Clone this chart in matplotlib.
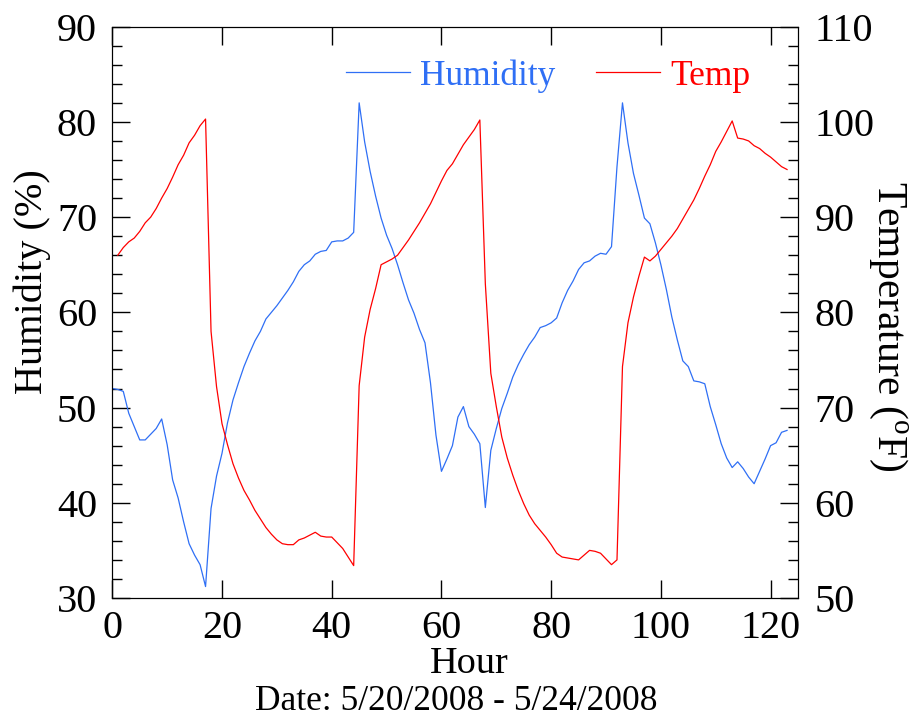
import numpy as np
import matplotlib
matplotlib.use("Agg")
import matplotlib.pyplot as plt
from matplotlib.ticker import MultipleLocator

plt.rcParams['font.family'] = ['Liberation Serif', 'DejaVu Serif']
plt.rcParams['mathtext.fontset'] = 'custom'
plt.rcParams['mathtext.rm'] = 'Liberation Serif'

# hourly readings
hum_hours = list(range(0, 124))
humidity = [52.0, 51.9, 51.7, 49.4, 48.0, 46.6, 46.6, 47.2, 47.8, 48.8,
            46.1, 42.4, 40.5, 38.0, 35.7, 34.5, 33.5, 31.2, 39.4, 42.8,
            45.2, 48.4, 50.8, 52.6, 54.3, 55.7, 57.0, 58.0, 59.3, 60.0,
            60.7, 61.5, 62.3, 63.2, 64.3, 65.0, 65.4, 66.1, 66.4, 66.5,
            67.4, 67.5, 67.5, 67.8, 68.4, 82.0, 77.9, 74.8, 72.2, 69.9,
            68.1, 66.7, 65.0, 63.1, 61.3, 59.9, 58.2, 56.8, 52.6, 47.1,
            43.3, 44.6, 46.0, 49.0, 50.1, 48.0, 47.2, 46.2, 39.5, 45.5,
            47.8, 49.9, 51.5, 53.2, 54.5, 55.6, 56.6, 57.4, 58.4, 58.6,
            58.9, 59.4, 61.0, 62.3, 63.3, 64.5, 65.2, 65.4, 65.9, 66.2,
            66.1, 66.9, 75.3, 82.0, 77.8, 74.6, 72.3, 69.9, 69.3, 67.3,
            65.0, 62.4, 59.5, 57.1, 54.9, 54.3, 52.8, 52.7, 52.5, 50.1,
            48.2, 46.2, 44.7, 43.7, 44.3, 43.6, 42.7, 42.0, 43.3, 44.6,
            46.0, 46.3, 47.4, 47.6]

temp_hours = list(range(1, 124))
temp = [86.0, 86.8, 87.4, 87.8, 88.5, 89.4, 90.0, 90.9, 92.0,
        93.0, 94.2, 95.5, 96.5, 97.8, 98.6, 99.6, 100.3, 78.0, 72.2,
        68.3, 66.1, 64.1, 62.6, 61.3, 60.3, 59.2, 58.3, 57.4, 56.7,
        56.1, 55.7, 55.6, 55.6, 56.1, 56.3, 56.6, 56.9, 56.5, 56.4,
        56.4, 55.8, 55.2, 54.3, 53.4, 72.3, 77.4, 80.3, 82.5, 85.0,
        85.3, 85.6, 86.0, 86.8, 87.6, 88.5, 89.4, 90.4, 91.4, 92.6,
        93.8, 94.9, 95.6, 96.6, 97.6, 98.4, 99.2, 100.2, 83.0, 73.6,
        70.1, 66.9, 64.7, 62.9, 61.3, 59.9, 58.7, 57.8, 57.1, 56.4,
        55.6, 54.7, 54.3, 54.2, 54.1, 54.0, 54.5, 55.0, 54.9, 54.7,
        54.1, 53.5, 54.0, 74.3, 78.9, 81.6, 83.8, 85.8, 85.4, 85.9,
        86.6, 87.3, 88.0, 88.8, 89.8, 90.8, 91.8, 93.0, 94.3, 95.5,
        96.9, 97.9, 99.0, 100.1, 98.3, 98.2, 98.0, 97.5, 97.2, 96.7,
        96.3, 95.8, 95.3, 95.0]

blue = '#2f6ff5'
red = '#ff0000'

fig = plt.figure(figsize=(9.16, 7.25), dpi=100)
ax = fig.add_axes([0.1226, 0.1752, 0.7486, 0.788])
ax2 = ax.twinx()

l1, = ax.plot(hum_hours, humidity, color=blue, lw=0.9, label='Humidity')
l2, = ax2.plot(temp_hours, temp, color=red, lw=0.9, label='Temp')

ax.set_xlim(0, 125)
ax.set_ylim(30, 90)
ax2.set_ylim(50, 110)

ax.xaxis.set_major_locator(MultipleLocator(20))
ax.yaxis.set_major_locator(MultipleLocator(10))
ax.yaxis.set_minor_locator(MultipleLocator(2))
ax2.yaxis.set_major_locator(MultipleLocator(10))
ax2.yaxis.set_minor_locator(MultipleLocator(2))

ax.tick_params(axis='x', which='major', direction='in', top=True, bottom=True,
               length=13, width=1, labelsize=29, pad=9)
ax.tick_params(axis='y', which='major', direction='in', left=True, right=False,
               length=13, width=1, labelsize=29, pad=11)
ax.tick_params(axis='y', which='minor', direction='in', left=True, right=False,
               length=7, width=1)
ax2.tick_params(axis='y', which='major', direction='in', length=13, width=1,
                labelsize=29, pad=12)
ax2.tick_params(axis='y', which='minor', direction='in', length=7, width=1)

# axis titles placed as in the original figure
fig.text(469 / 916, 1 - 664 / 725, 'Hour', fontsize=27.5, ha='center', va='center')
fig.text(456 / 916, 1 - 702 / 725, 'Date: 5/20/2008 - 5/24/2008',
         fontsize=25.5, ha='center', va='center')
fig.text(32 / 916, 1 - 282 / 725, 'Humidity (%)', fontsize=29,
         rotation=90, ha='center', va='center')
fig.text(888 / 916, 1 - 326 / 725, r'Temperature ($^{\rm o}$F)', fontsize=30,
         rotation=270, ha='center', va='center')

leg = ax.legend(handles=[l1, l2], loc='upper right', ncol=2, frameon=False,
                fontsize=25.5, handlelength=1.8, handletextpad=0.28, columnspacing=1.16,
                borderpad=0, borderaxespad=0,
                bbox_to_anchor=(0.93, 0.943), labelcolor='linecolor')

fig.savefig('out.png', dpi=100)
